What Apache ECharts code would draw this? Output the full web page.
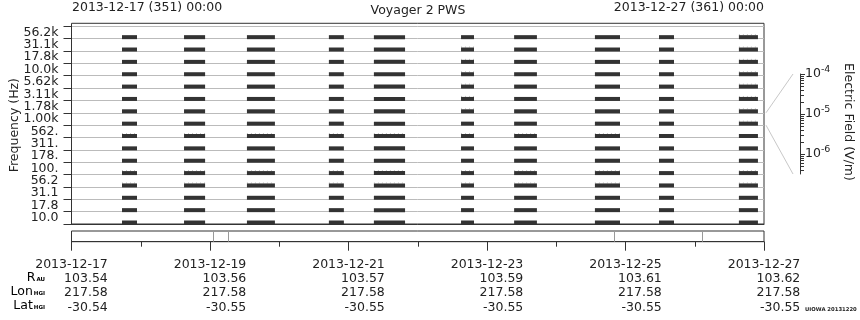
<!DOCTYPE html>
<html><head><meta charset="utf-8">
<script src="https://cdn.jsdelivr.net/npm/echarts@6/dist/echarts.min.js"></script>
<style>html,body{margin:0;padding:0;background:#fff}#c{width:860px;height:320px}</style>
</head><body><div id="c"></div>
<script>
// ---- data ----
const channels = ['10.0','17.8','31.1','56.2','100.','178.','311.','562.','1.00k','1.78k','3.11k','5.62k','10.0k','17.8k','31.1k','56.2k'];
// tracking passes, hours since 2013-12-17 00:00
const segStart = [17.5, 39.0, 60.8, 89.2, 104.8, 135.0, 153.4, 181.4, 203.6, 231.3];
const segEnd   = [22.7, 46.3, 70.5, 94.4, 115.6, 139.5, 161.3, 190.1, 208.8, 237.9];
// weak-signal speckles: [segment index, channel index]
const weakSeg = [0,0,0,1,1,1,2,2,2,3,3,3,4,4,4,5,5,5,5,5,5,5,5,5,6,6,6,7,7,7,9,9,9,9,9,9,9,9,9,9];
const weakCh  = [3,4,7,3,4,7,3,4,7,3,4,7,3,4,7,3,4,7,9,10,11,12,13,14,3,4,7,3,4,7,3,4,8,9,10,11,12,13,14,15];
const markerHours = [49.2, 54.3, 188.1, 218.6];
const tickDates = ['2013-12-17','2013-12-19','2013-12-21','2013-12-23','2013-12-25','2013-12-27'];
const rAU    = ['103.54','103.56','103.57','103.59','103.61','103.62'];
const lonHGI = ['217.58','217.58','217.58','217.58','217.58','217.58'];
const latHGI = ['-30.54','-30.55','-30.55','-30.55','-30.55','-30.55'];
const fieldDecades = [-6, -5, -4];
const startLabel = '2013-12-17 (351) 00:00';
const endLabel = '2013-12-27 (361) 00:00';
const titleText = 'Voyager 2 PWS';

// ---- build ----
const FONT = 'DejaVu Sans';
const TXT = '#222';
const strong = [];
segStart.forEach((s, i) => channels.forEach((c, j) => strong.push([s, segEnd[i], j])));
const weak = weakSeg.map((s, k) => [segStart[s], segEnd[s], weakCh[k]]);
const minorVals = [];
[-7, -6, -5].forEach(k => { for (let m = 2; m <= 9; m++) { const v = k + Math.log10(m); if (v > -6.5 && v < -4) minorVals.push(v); } });

function barItem(params, api) {
  const p0 = api.coord([api.value(0), api.value(2)]);
  const p1 = api.coord([api.value(1), api.value(2)]);
  const h = api.size([0, 1])[1];
  const yb = p0[1] + h / 2;
  return { type: 'rect', shape: { x: p0[0], y: yb - 3.5, width: p1[0] - p0[0], height: 4 }, style: { fill: '#333' } };
}
function weakItem(params, api) {
  const p0 = api.coord([api.value(0), api.value(2)]);
  const p1 = api.coord([api.value(1), api.value(2)]);
  const h = api.size([0, 1])[1];
  const yb = p0[1] + h / 2;
  return { type: 'line', shape: { x1: p0[0], y1: yb - 4, x2: p1[0], y2: yb - 4 }, style: { stroke: '#c4c4c4', lineWidth: 1, lineDash: [1, 3] } };
}

const gridBase = { left: 71.5, right: 96, outerBoundsMode: 'none', containLabel: false };
const chart = echarts.init(document.getElementById('c'), null, { renderer: 'canvas' });
chart.setOption({
  animation: false,
  backgroundColor: '#fff',
  textStyle: { fontFamily: FONT, color: TXT },
  grid: [
    Object.assign({}, gridBase, { top: 26.3, height: 197.7 }),
    Object.assign({}, gridBase, { top: 23.3, height: 200.7, show: true, borderColor: '#333', borderWidth: 1, backgroundColor: 'transparent' }),
    Object.assign({}, gridBase, { top: 231, height: 10.7, show: true, borderColor: '#333', borderWidth: 1, backgroundColor: 'transparent' }),
    { left: 800, right: 59, top: 74, height: 100, outerBoundsMode: 'none', containLabel: false }
  ],
  xAxis: [
    { gridIndex: 0, type: 'value', min: 0, max: 240, axisLine: { show: true, lineStyle: { color: '#333' } }, axisTick: { show: false }, axisLabel: { show: false }, splitLine: { show: false } },
    { gridIndex: 1, type: 'value', show: false },
    { gridIndex: 2, type: 'value', min: 0, max: 240, interval: 48,
      axisLine: { show: true, lineStyle: { color: '#333' } },
      axisTick: { show: true, length: 9, lineStyle: { color: '#333' } },
      minorTick: { show: true, splitNumber: 2, length: 5, lineStyle: { color: '#333' } },
      splitLine: { show: false },
      axisLabel: { margin: 16, align: 'center',
        formatter: v => { const i = Math.round(v / 48); return `{r|${tickDates[i]}}\n{r|${rAU[i]}}\n{r|${lonHGI[i]}}\n{r|${latHGI[i]}}`; },
        rich: { r: { align: 'right', lineHeight: 14.2, fontSize: 12.5, fontFamily: FONT, color: TXT } } } },
    { gridIndex: 3, type: 'value', show: false }
  ],
  yAxis: [
    { gridIndex: 0, type: 'category', data: channels, boundaryGap: true,
      axisLine: { show: true, lineStyle: { color: '#333' } },
      axisTick: { show: true, length: 8, interval: 0, lineStyle: { color: '#333' } },
      axisLabel: { interval: 0, margin: 13, fontSize: 12.5, fontFamily: FONT, color: TXT },
      splitLine: { show: true, interval: 0, lineStyle: { color: '#bbb', width: 1 } },
      name: 'Frequency (Hz)', nameLocation: 'middle', nameGap: 50, nameMoveOverlap: false,
      nameTextStyle: { fontSize: 12.5, fontFamily: FONT, color: TXT } },
    { gridIndex: 1, type: 'value', show: false },
    { gridIndex: 2, type: 'value', min: 0, max: 1, show: false },
    { gridIndex: 3, type: 'value', min: -6.5, max: -4, position: 'right',
      axisLine: { show: true, lineStyle: { color: '#333' } },
      axisTick: { show: true, length: 5, customValues: fieldDecades, lineStyle: { color: '#333' } },
      splitLine: { show: false },
      axisLabel: { customValues: fieldDecades, margin: 4, formatter: v => `{b|10}{s|${v}}`,
        rich: { b: { fontSize: 12.5, fontFamily: FONT, color: TXT }, s: { fontSize: 9.5, fontFamily: FONT, color: TXT, padding: [0, 0, 9, 0] } } } },
    { gridIndex: 3, type: 'value', min: -6.5, max: -4, position: 'right',
      axisLine: { show: false }, splitLine: { show: false }, axisLabel: { show: false },
      axisTick: { show: true, length: 3, customValues: minorVals, lineStyle: { color: '#333' } } }
  ],
  series: [
    { type: 'custom', xAxisIndex: 0, yAxisIndex: 0, renderItem: weakItem, encode: { x: [0, 1], y: 2 }, data: weak, z: 2 },
    { type: 'custom', xAxisIndex: 0, yAxisIndex: 0, renderItem: barItem, encode: { x: [0, 1], y: 2 }, data: strong, z: 3 },
    { type: 'line', xAxisIndex: 2, yAxisIndex: 2, data: [], silent: true,
      markLine: { silent: true, symbol: 'none', label: { show: false }, lineStyle: { color: '#999', type: 'solid', width: 1 },
        data: markerHours.map(h => ({ xAxis: h })) } }
  ],
  graphic: [
    { type: 'text', x: 72, y: 8, style: { text: startLabel, fontSize: 12.5, fontFamily: FONT, fill: TXT, align: 'left', verticalAlign: 'middle' } },
    { type: 'text', x: 764, y: 8, style: { text: endLabel, fontSize: 12.5, fontFamily: FONT, fill: TXT, align: 'right', verticalAlign: 'middle' } },
    { type: 'text', x: 418, y: 11, style: { text: titleText, fontSize: 12.5, fontFamily: FONT, fill: TXT, align: 'center', verticalAlign: 'middle' } },
    { type: 'text', x: 848, y: 122, rotation: -Math.PI / 2, style: { text: 'Electric Field (V/m)', fontSize: 12.5, fontFamily: FONT, fill: TXT, align: 'center', verticalAlign: 'middle' } },
    { type: 'polyline', shape: { points: [[766, 112.8], [793, 74]] }, style: { stroke: '#c8c8c8', lineWidth: 1, fill: null } },
    { type: 'polyline', shape: { points: [[766, 125.2], [793, 174]] }, style: { stroke: '#c8c8c8', lineWidth: 1, fill: null } },
    { type: 'text', x: 45, y: 277.5, style: { text: '{m|R}{s|AU}', align: 'right', verticalAlign: 'middle', rich: { m: { fontSize: 12.5, fontFamily: FONT, color: TXT }, s: { fontSize: 5.5, fontWeight: 'bold', fontFamily: FONT, color: TXT, padding: [4, 0, 0, 1] } } } },
    { type: 'text', x: 45, y: 291.5, style: { text: '{m|Lon}{s|HGI}', align: 'right', verticalAlign: 'middle', rich: { m: { fontSize: 12.5, fontFamily: FONT, color: TXT }, s: { fontSize: 5.5, fontWeight: 'bold', fontFamily: FONT, color: TXT, padding: [4, 0, 0, 1] } } } },
    { type: 'text', x: 45, y: 305.5, style: { text: '{m|Lat}{s|HGI}', align: 'right', verticalAlign: 'middle', rich: { m: { fontSize: 12.5, fontFamily: FONT, color: TXT }, s: { fontSize: 5.5, fontWeight: 'bold', fontFamily: FONT, color: TXT, padding: [4, 0, 0, 1] } } } },
    { type: 'text', x: 805, y: 309.5, style: { text: 'UIOWA 20131220', fontSize: 5.3, fontWeight: 'bold', fontFamily: FONT, fill: TXT, align: 'left', verticalAlign: 'middle' } }
  ]
});
</script></body></html>
